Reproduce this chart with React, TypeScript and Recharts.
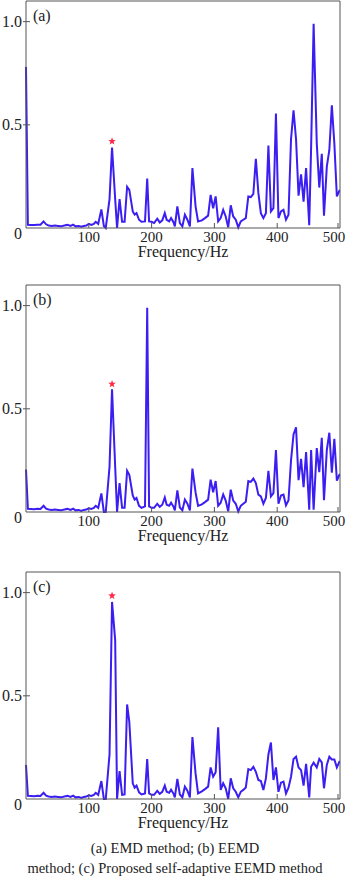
import React from 'react';
import { LineChart, Line, XAxis, YAxis, ReferenceDot } from 'recharts';

const freqGrid = [0, 3, 8, 13, 18, 23, 28, 32, 36, 41, 46, 51, 56, 61, 66, 71, 75, 79, 84, 88, 92, 96, 100, 104, 108, 111, 115, 120, 124, 127, 133, 137, 142, 145, 149, 153, 157, 161, 164.5, 170, 173, 176, 180, 184, 189.5, 193, 196, 200, 204, 209, 213, 217, 221, 224, 228, 231, 235, 237, 241, 245, 249, 253, 257, 261, 265, 270, 274, 280, 285, 290, 294, 298, 302, 306, 310, 314, 318, 322, 326, 330, 334, 338, 342, 346, 350, 354, 358, 362, 366, 370, 374, 378, 382, 386, 390, 394, 398, 402, 406, 410, 414, 418, 422, 426, 430, 434, 438, 442, 446, 451, 454, 458, 463, 467, 471, 474.5, 479, 483, 487, 491, 495, 499, 500];

const ampEMD = [0.78, 0.016, 0.015, 0.014, 0.016, 0.016, 0.032, 0.018, 0.012, 0.01, 0.012, 0.01, 0.008, 0.012, 0.015, 0.01, 0.016, 0.008, 0.01, 0.006, 0.01, 0.012, 0.02, 0.015, 0.02, 0.03, 0.02, 0.09, 0.01, 0.0, 0.14, 0.39, 0.14, 0.0, 0.14, 0.03, 0.03, 0.2, 0.185, 0.08, 0.065, 0.072, 0.04, 0.03, 0.032, 0.24, 0.032, 0.03, 0.024, 0.045, 0.027, 0.037, 0.072, 0.04, 0.032, 0.048, 0.027, 0.008, 0.105, 0.024, 0.008, 0.064, 0.04, 0.008, 0.29, 0.105, 0.032, 0.037, 0.048, 0.06, 0.16, 0.096, 0.153, 0.032, 0.048, 0.088, 0.056, 0.003, 0.11, 0.056, 0.04, 0.003, 0.032, 0.04, 0.048, 0.153, 0.15, 0.165, 0.335, 0.17, 0.072, 0.048, 0.072, 0.4, 0.08, 0.096, 0.555, 0.048, 0.08, 0.088, 0.04, 0.064, 0.43, 0.57, 0.43, 0.157, 0.26, 0.128, 0.29, 0.013, 0.39, 0.99, 0.41, 0.196, 0.36, 0.06, 0.297, 0.377, 0.594, 0.41, 0.153, 0.18, 0.18];

const ampEEMD = [0.206, 0.015, 0.014, 0.013, 0.016, 0.015, 0.03, 0.016, 0.012, 0.01, 0.012, 0.01, 0.008, 0.012, 0.015, 0.01, 0.016, 0.008, 0.01, 0.005, 0.01, 0.012, 0.018, 0.015, 0.02, 0.03, 0.02, 0.09, 0.0, 0.0, 0.22, 0.595, 0.22, 0.0, 0.14, 0.02, 0.02, 0.2, 0.18, 0.08, 0.06, 0.068, 0.03, 0.02, 0.027, 0.99, 0.027, 0.02, 0.02, 0.04, 0.025, 0.035, 0.07, 0.035, 0.03, 0.045, 0.025, 0.008, 0.105, 0.022, 0.008, 0.06, 0.04, 0.008, 0.21, 0.095, 0.03, 0.037, 0.048, 0.06, 0.157, 0.095, 0.15, 0.03, 0.045, 0.085, 0.055, 0.003, 0.108, 0.055, 0.04, 0.003, 0.03, 0.04, 0.05, 0.15, 0.146, 0.162, 0.14, 0.084, 0.076, 0.04, 0.068, 0.2, 0.076, 0.092, 0.3, 0.04, 0.08, 0.084, 0.032, 0.057, 0.25, 0.376, 0.41, 0.154, 0.258, 0.12, 0.29, 0.011, 0.3, 0.011, 0.31, 0.193, 0.36, 0.057, 0.3, 0.384, 0.19, 0.355, 0.152, 0.18, 0.18];

const ampAdaptive = [0.165, 0.015, 0.014, 0.013, 0.016, 0.015, 0.03, 0.016, 0.012, 0.01, 0.012, 0.01, 0.008, 0.012, 0.015, 0.01, 0.016, 0.008, 0.01, 0.005, 0.01, 0.012, 0.018, 0.015, 0.02, 0.03, 0.02, 0.087, 0.0, 0.0, 0.216, 0.955, 0.77, 0.0, 0.135, 0.02, 0.022, 0.458, 0.374, 0.076, 0.055, 0.065, 0.032, 0.022, 0.027, 0.194, 0.027, 0.02, 0.02, 0.04, 0.025, 0.035, 0.065, 0.035, 0.03, 0.045, 0.025, 0.008, 0.097, 0.022, 0.008, 0.06, 0.04, 0.008, 0.3, 0.124, 0.027, 0.037, 0.048, 0.06, 0.153, 0.108, 0.13, 0.347, 0.044, 0.076, 0.052, 0.0, 0.1, 0.052, 0.035, 0.008, 0.035, 0.044, 0.056, 0.145, 0.14, 0.156, 0.132, 0.092, 0.087, 0.044, 0.1, 0.216, 0.274, 0.092, 0.153, 0.035, 0.079, 0.084, 0.027, 0.055, 0.108, 0.194, 0.205, 0.153, 0.14, 0.065, 0.17, 0.008, 0.156, 0.176, 0.153, 0.194, 0.177, 0.052, 0.165, 0.205, 0.192, 0.192, 0.153, 0.18, 0.18];

const panelLabels = ['(a)', '(b)', '(c)'];
const markerFreq = 137;
const markerAmps = [0.42, 0.62, 0.985];
const xTicks = [100, 200, 300, 400, 500];
const yTicks = [0, 0.5, 1.0];
const xLabel = 'Frequency/Hz';
const captionLine1 = '(a) EMD method; (b) EEMD';
const captionLine2 = 'method; (c) Proposed self-adaptive EEMD method';

const FONT = '"Liberation Serif", "Times New Roman", serif';
const FRAME = '#555';
const LINE = '#3a1ef2';

const YTick = (props: any) => {
  const { x, y, payload } = props;
  const v = payload.value;
  const isZero = v === 0;
  return (
    <g>
      {!isZero && <line x1={x - 3} x2={x + 4} y1={y} y2={y} stroke={FRAME} strokeWidth={1} />}
      <text x={x - 4} y={y + (isZero ? 5 : 0)} dy="0.35em" textAnchor="end" fontSize={16} fontFamily={FONT} fill="#222">
        {isZero ? '0' : v.toFixed(1)}
      </text>
    </g>
  );
};

const XTick = (props: any) => {
  const { x, y, payload, index } = props;
  const shift = index === xTicks.length - 1 ? -4 : 0;
  return (
    <g>
      <line x1={x} x2={x} y1={y} y2={y - 5} stroke={FRAME} strokeWidth={1} />
      <text x={x + shift} y={y + 13.5} textAnchor="middle" fontSize={15} fontFamily={FONT} fill="#222">
        {payload.value}
      </text>
    </g>
  );
};

const Star = (props: any) => {
  const { cx, cy } = props;
  const pts: string[] = [];
  for (let i = 0; i < 10; i++) {
    const r = i % 2 === 0 ? 4 : 1.7;
    const ang = -Math.PI / 2 + (i * Math.PI) / 5;
    pts.push(`${cx + r * Math.cos(ang)},${cy + r * Math.sin(ang)}`);
  }
  return <polygon points={pts.join(' ')} fill="#ff2a4a" />;
};

const makeTag = (label: string) => (props: any) => {
  const { cx, cy } = props;
  return (
    <text x={cx} y={cy - 1} textAnchor="start" fontSize={16} fontFamily={FONT} fill="#222">
      {label}
    </text>
  );
};

const Panel = ({ amps, idx }: { amps: number[]; idx: number }) => {
  const data = freqGrid.map((f, i) => ({ f, a: amps[i] }));
  return (
    <LineChart width={350} height={270} data={data} margin={{ top: 0, right: 9, bottom: 2, left: 25 }}>
      <XAxis
        dataKey="f"
        type="number"
        domain={[0, 500]}
        ticks={xTicks}
        tick={<XTick />}
        tickSize={0}
        tickMargin={0}
        height={40}
        axisLine={{ stroke: FRAME }}
        tickLine={false}
        label={{ value: xLabel, position: 'insideBottom', offset: 11, fontSize: 16, fontFamily: FONT, fill: '#222' }}
      />
      <XAxis xAxisId="top" orientation="top" dataKey="f" type="number" domain={[0, 500]} height={1} tick={false} tickLine={false} axisLine={{ stroke: FRAME }} />
      <YAxis
        type="number"
        domain={[0, 1.1]}
        ticks={yTicks}
        tick={<YTick />}
        tickSize={0}
        tickMargin={0}
        width={1}
        axisLine={{ stroke: FRAME }}
        tickLine={false}
      />
      <YAxis yAxisId="right" orientation="right" type="number" domain={[0, 1.1]} width={1} tick={false} tickLine={false} axisLine={{ stroke: FRAME }} />
      <Line dataKey="a" type="linear" stroke={LINE} strokeWidth={2} dot={false} isAnimationActive={false} />
      <ReferenceDot x={markerFreq} y={markerAmps[idx]} shape={<Star />} ifOverflow="visible" />
      <ReferenceDot x={11} y={1.0} shape={makeTag(panelLabels[idx])} ifOverflow="visible" />
    </LineChart>
  );
};

export default function App() {
  return (
    <div style={{ position: 'absolute', left: 0, top: 0, width: 350, height: 880, background: '#fff', fontFamily: FONT }}>
      <div style={{ position: 'absolute', left: 0, top: 0 }}>
        <Panel amps={ampEMD} idx={0} />
      </div>
      <div style={{ position: 'absolute', left: 0, top: 284 }}>
        <Panel amps={ampEEMD} idx={1} />
      </div>
      <div style={{ position: 'absolute', left: 0, top: 571 }}>
        <Panel amps={ampAdaptive} idx={2} />
      </div>
      <div style={{ position: 'absolute', left: 0, top: 838, width: 350, textAlign: 'center', fontSize: 14.5, lineHeight: '20px', color: '#222', whiteSpace: 'pre' }}>
        {captionLine1}
      </div>
      <div style={{ position: 'absolute', left: 0, top: 858, width: 350, textAlign: 'center', fontSize: 14.5, lineHeight: '20px', color: '#222', whiteSpace: 'pre' }}>
        {captionLine2}
      </div>
    </div>
  );
}
